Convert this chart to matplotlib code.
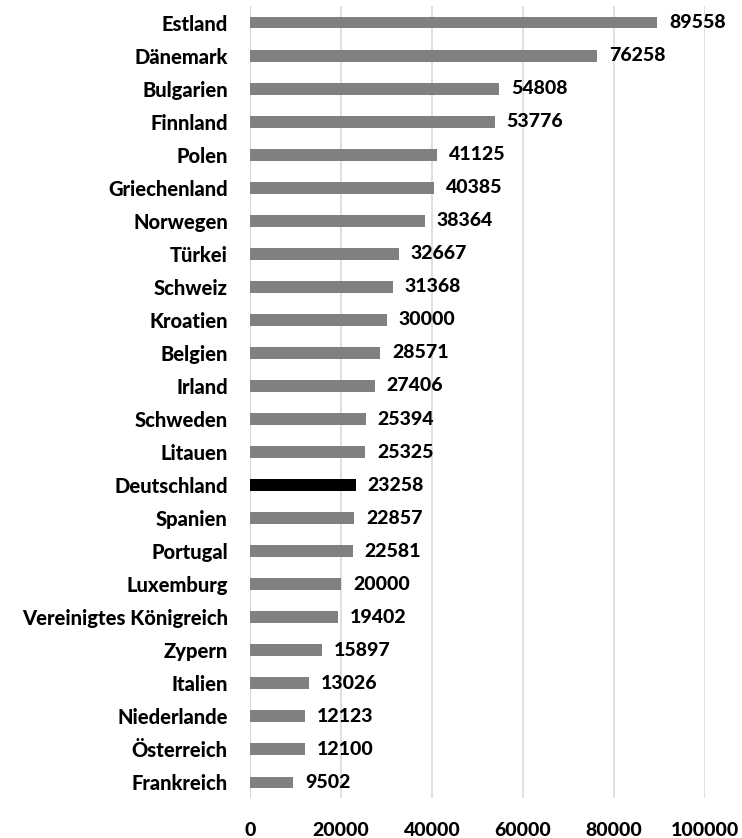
import matplotlib
matplotlib.use("Agg")
import matplotlib.pyplot as plt

countries = ["Estland", "Dänemark", "Bulgarien", "Finnland", "Polen", "Griechenland",
             "Norwegen", "Türkei", "Schweiz", "Kroatien", "Belgien", "Irland", "Schweden",
             "Litauen", "Deutschland", "Spanien", "Portugal", "Luxemburg",
             "Vereinigtes Königreich", "Zypern", "Italien", "Niederlande", "Österreich",
             "Frankreich"]
values = [89558, 76258, 54808, 53776, 41125, 40385, 38364, 32667, 31368, 30000, 28571,
          27406, 25394, 25325, 23258, 22857, 22581, 20000, 19402, 15897, 13026, 12123,
          12100, 9502]
highlight = "Deutschland"
xticks = [0, 20000, 40000, 60000, 80000, 100000]

plt.rcParams['font.family'] = ['Lato', 'DejaVu Sans']
W = 900
fig = plt.figure(figsize=(7.42, 8.38), dpi=100)
ax = fig.add_axes([250/742, 1-798/838, (705-250)/742, (798-6)/838])

n = len(countries)
ys = list(range(n - 1, -1, -1))
colors = ["#000000" if c == highlight else "#808080" for c in countries]
ax.barh(ys, values, height=0.36, color=colors, zorder=3)
for y, v in zip(ys, values):
    ax.annotate(f"{v}", (v, y), xytext=(8.6, 0), textcoords="offset points",
                va="center", ha="left", fontsize=14, fontweight=W, color="#000000")

ax.set_xlim(0, 100000)
ax.set_ylim(-0.47, n - 1 + 0.5)
ax.set_xticks(xticks)
ax.set_xticklabels([str(t) for t in xticks], fontsize=14, fontweight=W)
ax.set_yticks(ys)
ax.set_yticklabels(countries, fontsize=14.5, fontweight=W)
ax.tick_params(axis='both', length=0)
ax.tick_params(axis='y', pad=16)
ax.tick_params(axis='x', pad=17)
ax.grid(axis='x', color="#d9d9d9", linewidth=1.2, zorder=0)
for s in ax.spines.values():
    s.set_visible(False)
ax.axvline(0, color="#d9d9d9", linewidth=1.5, zorder=1)

fig.savefig("out.png", dpi=100)
